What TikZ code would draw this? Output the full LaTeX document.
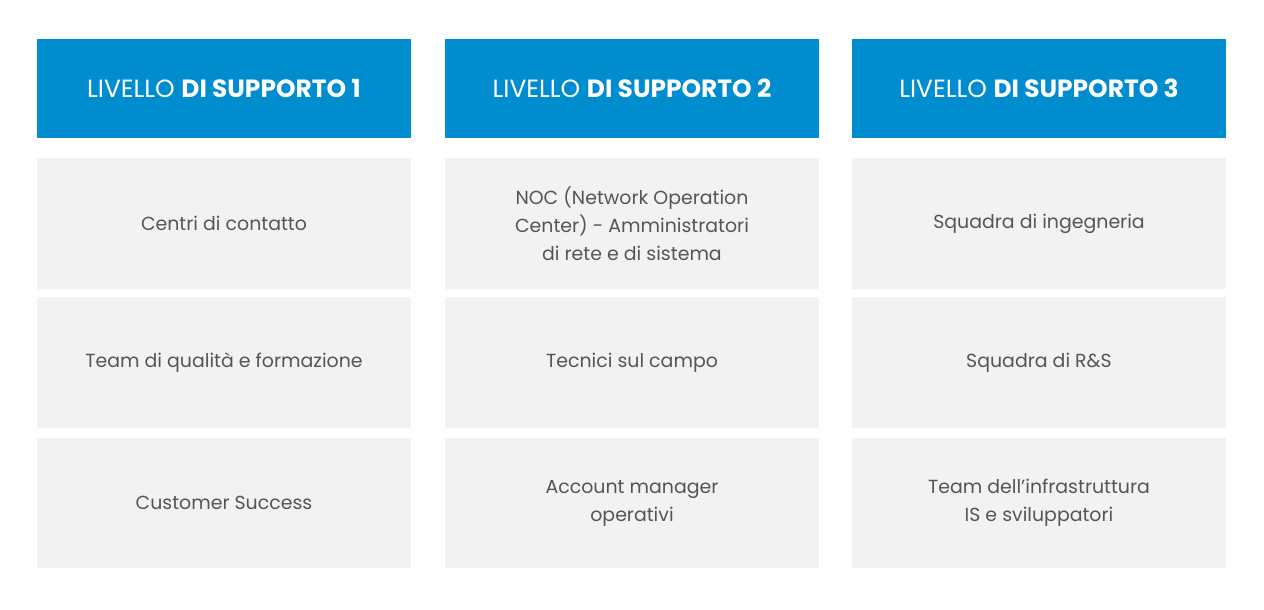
\documentclass[tikz,border=0pt]{standalone}
\usepackage{fontspec}
\setmainfont{Poppins}
\usepackage{tikz}
\definecolor{headblue}{HTML}{008DCF}
\definecolor{cellgray}{HTML}{F2F2F2}
\definecolor{textgray}{HTML}{555555}
\tikzset{
  head/.style={fill=headblue, text=white, minimum width=374bp, minimum height=99bp,
    inner sep=0pt, font=\fontsize{25}{30}\selectfont},
  cell/.style={fill=cellgray, text=textgray, minimum width=374bp, minimum height=130bp,
    inner sep=0pt, align=center, font=\fontsize{19}{28}\selectfont}
}
\begin{document}
\begin{tikzpicture}[x=1bp,y=-1bp]
	\useasboundingbox (0,0) rectangle (1264,610);
	
	\node[head] (h1) at (224, 88.5)  {LIVELLO \textbf{DI SUPPORTO 1}};
	\node[head] (h2) at (632, 88.5)  {LIVELLO \textbf{DI SUPPORTO 2}};
	\node[head] (h3) at (1039, 88.5) {LIVELLO \textbf{DI SUPPORTO 3}};
	
	\node[cell] (a1) at (224, 223.5) {Centri di contatto};
	\node[cell] (a2) at (224, 362.5) {Team di qualità e formazione};
	\node[cell] (a3) at (224, 503)   {Customer Success};
	
	\node[cell] (b1) at (632, 223.5) {NOC (Network Operation\\Center) - Amministratori\\di rete e di sistema};
	\node[cell] (b2) at (632, 362.5) {Tecnici sul campo};
	\node[cell] (b3) at (632, 503)   {Account manager\\operativi};
	
	\node[cell] (c1) at (1039, 223.5) {Squadra di ingegneria};
	\node[cell] (c2) at (1039, 362.5) {Squadra di R\&S};
	\node[cell] (c3) at (1039, 503)   {Team dell'infrastruttura\\IS e sviluppatori};
	
\end{tikzpicture}
\end{document}
